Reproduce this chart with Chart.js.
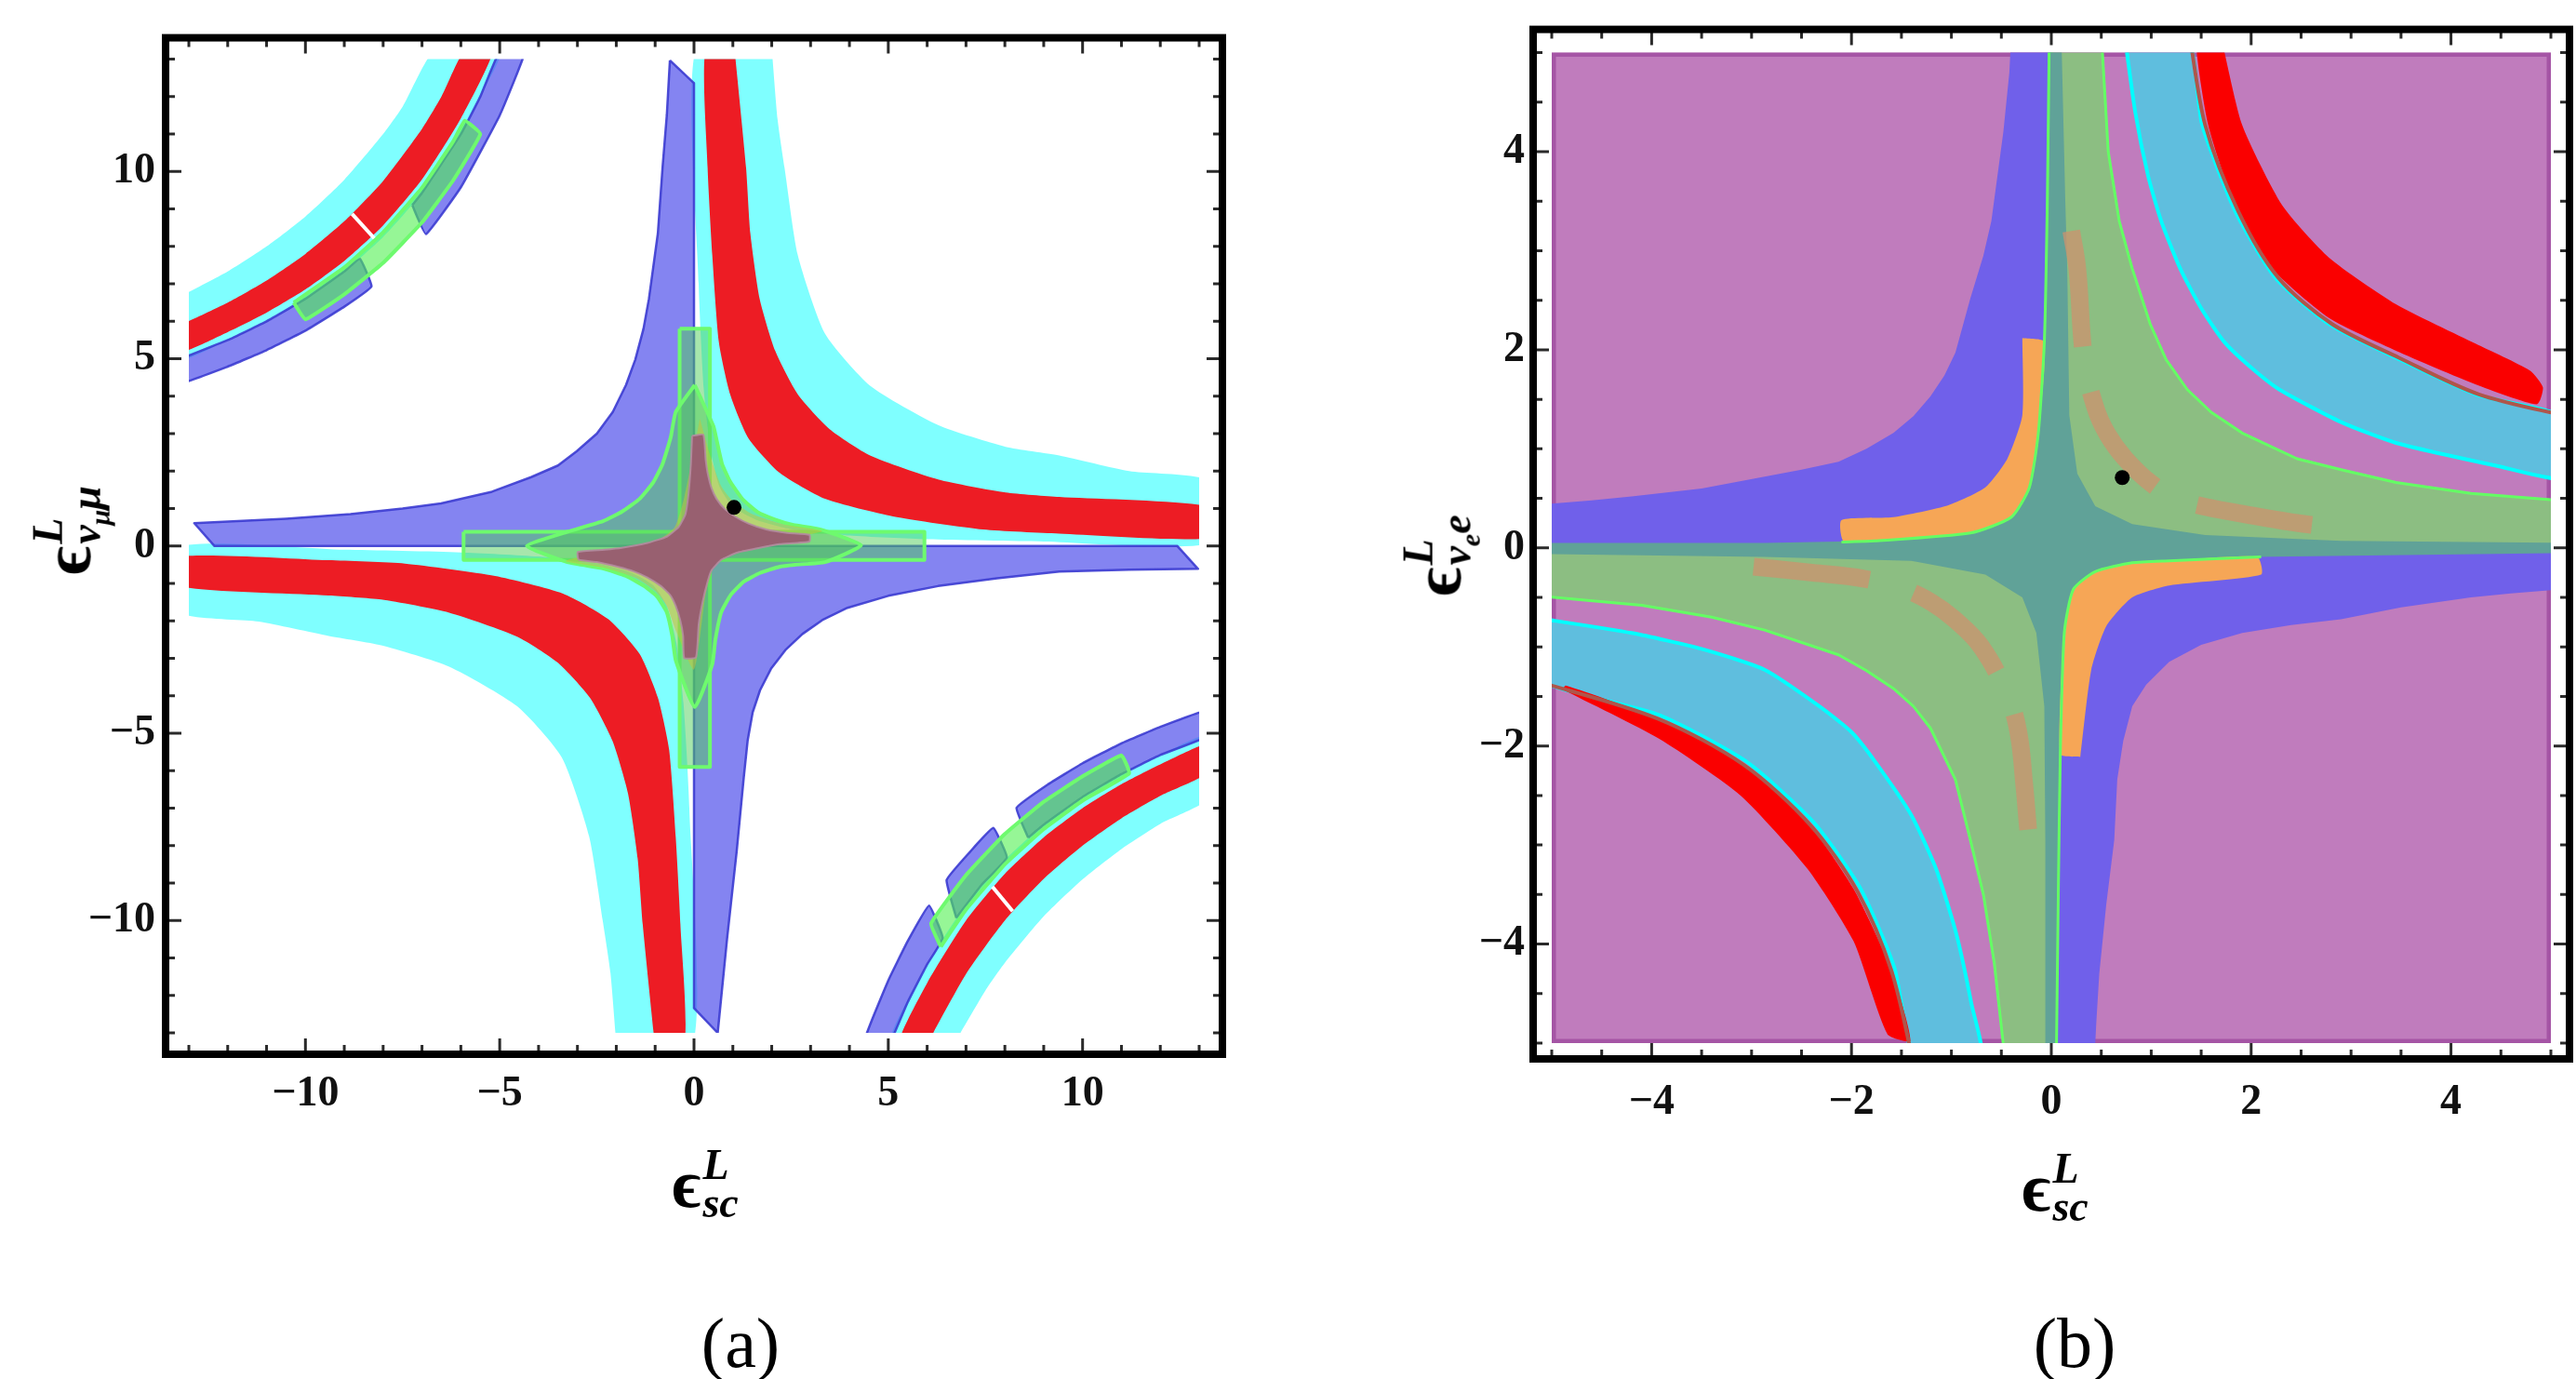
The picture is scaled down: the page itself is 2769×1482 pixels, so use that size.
<!DOCTYPE html>
<html><head><meta charset="utf-8">
<script src="https://cdn.jsdelivr.net/npm/chart.js@4.4.1/dist/chart.umd.min.js"></script>
<style>
html,body{margin:0;padding:0;background:#fff;}
#wrap{position:relative;width:2769px;height:1482px;overflow:hidden;background:#fff;}
canvas{position:absolute;top:0;}
#cA{left:0;} #cB{left:1440px;}
.lab{position:absolute;font-family:'Liberation Serif','DejaVu Serif',serif;font-weight:bold;color:#000;white-space:nowrap;transform:translate(-50%,-50%);line-height:1;}
.rot{transform:translate(-50%,-50%) rotate(-90deg);}
.eps{font-size:74px;vertical-align:middle;}
.ss{display:inline-block;vertical-align:middle;font-style:italic;font-size:46px;line-height:0.9;text-align:left;margin-left:2px;}
.ss>span{display:block;}
.s2{font-size:30px;position:relative;top:10px;}
.cap{position:absolute;font-family:'Liberation Serif','DejaVu Serif',serif;font-size:76px;color:#000;transform:translate(-50%,-50%);line-height:1;}
</style></head>
<body><div id="wrap">
<canvas id="cA" width="1340" height="1482"></canvas>
<canvas id="cB" width="1329" height="1482"></canvas>
<div class="lab" style="left:758px;top:1272px"><span class="eps">ϵ</span><span class="ss"><span>L</span><span>sc</span></span></div>
<div class="lab" style="left:2209px;top:1276px"><span class="eps">ϵ</span><span class="ss"><span>L</span><span>sc</span></span></div>
<div class="lab rot" style="left:72px;top:570px"><span class="eps">ϵ</span><span class="ss"><span>L</span><span>ν<span class="s2">μ</span>μ</span></span></div>
<div class="lab rot" style="left:1545px;top:597px"><span class="eps">ϵ</span><span class="ss"><span>L</span><span>ν<span class="s2">e</span>e</span></span></div>
<div class="cap" style="left:796px;top:1443px">(a)</div>
<div class="cap" style="left:2230px;top:1443px">(b)</div>
</div>
<script>
// ---------- tick labels ----------
const LEFT_TICKS = [-10, -5, 0, 5, 10];
const RIGHT_TICKS = [-4, -2, 0, 2, 4];

// ---------- panel (a) regions: boundary points [x, y] ----------
const L_CYAN_Q1 = [[2.0,13.3],[2.15,11.4],[2.33,10.1],[2.67,7.77],[3.37,5.67],[4.53,4.28],[6.28,3.23],[8.02,2.65],[9.4,2.42],[11.2,2.0],[13.3,1.72],[13.3,0.08],[9.0,0.12],[6.0,0.18],[4.0,0.28],[2.5,0.45],[1.6,0.7],[1.0,1.05],[0.65,1.6],[0.42,2.6],[0.25,4.2],[0.12,7.0],[0.05,13.3]];
const L_CYAN_Q3 = [[-2.0,-13.3],[-2.15,-11.4],[-2.35,-10.0],[-2.7,-7.75],[-3.4,-5.65],[-4.55,-4.28],[-6.3,-3.22],[-8.05,-2.65],[-9.4,-2.4],[-11.2,-2.02],[-13.3,-1.75],[-13.3,-0.03],[-9.0,-0.1],[-6.0,-0.17],[-4.0,-0.28],[-2.5,-0.46],[-1.6,-0.72],[-1.05,-1.05],[-0.7,-1.6],[-0.45,-2.6],[-0.27,-4.2],[-0.12,-7.0],[-0.03,-13.3]];
const L_CYAN_Q2 = [[-13.3,6.62],[-12.0,7.33],[-11.0,8.0],[-10.0,8.8],[-9.0,9.78],[-8.0,11.0],[-7.5,11.73],[-6.62,13.3],[-4.96,13.3],[-5.5,12.0],[-6.0,11.0],[-7.0,9.43],[-8.0,8.25],[-9.0,7.33],[-10.0,6.6],[-11.0,6.0],[-12.0,5.5],[-13.3,4.96]];
const L_CYAN_Q4 = [[6.69,-13.3],[7.5,-11.87],[8.0,-11.13],[9.0,-9.89],[10.0,-8.9],[11.0,-8.09],[12.0,-7.42],[13.3,-6.69],[13.3,-5.04],[12.0,-5.58],[11.0,-6.09],[10.0,-6.7],[9.0,-7.44],[8.0,-8.38],[7.0,-9.57],[6.0,-11.17],[5.04,-13.3]];
const L_RED_Q1 = [[1.04,13.3],[1.34,10.1],[1.45,8.35],[1.69,6.6],[2.09,5.21],[2.67,4.05],[3.49,3.12],[4.53,2.42],[6.28,1.78],[8.02,1.43],[9.4,1.31],[13.3,1.04],[13.3,0.22],[9.4,0.33],[7.44,0.44],[5.12,0.79],[3.37,1.26],[2.21,1.95],[1.40,2.88],[0.93,4.05],[0.64,5.44],[0.47,7.77],[0.35,10.1],[0.3,13.3]];
const L_RED_Q3 = [[-1.01,-13.3],[-1.32,-10.1],[-1.45,-8.35],[-1.7,-6.6],[-2.1,-5.2],[-2.68,-4.05],[-3.5,-3.12],[-4.55,-2.42],[-6.3,-1.78],[-8.05,-1.43],[-9.4,-1.32],[-13.3,-1.06],[-13.3,-0.29],[-9.4,-0.38],[-7.44,-0.47],[-5.12,-0.8],[-3.37,-1.27],[-2.21,-1.95],[-1.40,-2.88],[-0.93,-4.05],[-0.64,-5.44],[-0.47,-7.77],[-0.35,-10.1],[-0.25,-13.3]];
const L_RED_Q2 = [[-13.3,5.86],[-12.0,6.5],[-11.0,7.09],[-10.0,7.8],[-9.0,8.67],[-8.0,9.75],[-7.0,11.14],[-6.5,12.0],[-5.86,13.3],[-5.15,13.3],[-6.0,11.42],[-7.0,9.79],[-8.0,8.56],[-9.0,7.61],[-10.0,6.85],[-11.0,6.23],[-12.0,5.71],[-13.3,5.15]];
const L_RED_Q4 = [[6.0,-13.3],[7.0,-11.43],[8.0,-10.0],[9.0,-8.89],[10.0,-8.0],[11.0,-7.27],[12.0,-6.67],[13.3,-6.0],[13.3,-5.26],[12.0,-5.83],[11.0,-6.36],[10.0,-7.0],[9.0,-7.78],[8.0,-8.75],[7.0,-10.0],[6.0,-11.67],[5.26,-13.3]];
const L_BLUE_C = [[-0.62,12.97],[0.0,12.36],[0.0,6.0],[0.0,0.0],[6.0,0.0],[12.44,0.0],[12.97,-0.61],[11.2,-0.63],[9.4,-0.68],[7.8,-0.86],[6.28,-1.07],[5.0,-1.33],[3.95,-1.65],[3.3,-1.98],[2.79,-2.35],[2.35,-2.78],[1.98,-3.28],[1.7,-3.85],[1.51,-4.44],[1.38,-5.2],[1.28,-6.19],[1.1,-8.14],[0.85,-10.5],[0.61,-13.0],[0.0,-12.34],[0.0,-6.0],[0.0,0.0],[-6.0,0.0],[-12.34,0.0],[-12.86,0.61],[-10.5,0.73],[-8.84,0.85],[-7.5,1.0],[-6.51,1.14],[-5.2,1.45],[-4.19,1.84],[-3.5,2.15],[-3.02,2.53],[-2.5,3.0],[-2.09,3.58],[-1.75,4.3],[-1.51,4.98],[-1.3,5.8],[-1.16,6.6],[-0.93,8.35],[-0.81,10.1],[-0.7,11.5]];
const L_BLUE_Q2A = [[-13.3,4.96],[-12.0,5.5],[-11.0,6.0],[-10.0,6.6],[-9.0,7.33],[-8.6,7.67],[-8.3,6.93],[-9.0,6.39],[-10.0,5.75],[-11.0,5.23],[-12.0,4.79],[-13.3,4.32]];
const L_BLUE_Q2B = [[-7.25,9.1],[-7.0,9.43],[-6.0,11.0],[-5.5,12.0],[-4.96,13.3],[-4.32,13.3],[-5.0,11.5],[-6.0,9.58],[-6.9,8.33]];
const L_BLUE_Q4A = [[5.04,-13.3],[5.5,-12.18],[6.0,-11.17],[6.4,-10.47],[6.05,-9.6],[5.5,-10.55],[5.0,-11.6],[4.36,-13.3]];
const L_BLUE_Q4B = [[6.75,-9.93],[7.4,-9.05],[8.05,-8.32],[7.7,-7.53],[7.1,-8.17],[6.5,-8.92]];
const L_BLUE_Q4C = [[8.6,-7.79],[9.0,-7.44],[10.0,-6.7],[11.0,-6.09],[12.0,-5.58],[13.3,-5.04],[13.3,-4.36],[12.0,-4.83],[11.0,-5.27],[10.0,-5.8],[9.1,-6.37],[8.3,-6.99]];
const L_GREEN_Q2 = [[-10.3,6.5],[-9.0,7.44],[-8.0,8.38],[-7.0,9.57],[-6.2,10.8],[-5.9,11.36],[-5.5,11.0],[-6.2,9.76],[-7.0,8.64],[-8.0,7.56],[-9.0,6.72],[-10.0,6.05]];
const L_GREEN_Q4 = [[6.35,-10.7],[7.0,-9.71],[8.0,-8.5],[9.0,-7.56],[10.0,-6.8],[11.2,-6.07],[11.0,-5.59],[10.0,-6.15],[9.0,-6.83],[8.0,-7.69],[7.0,-8.79],[6.1,-10.08]];
const L_GREEN_V = [[-0.37,5.8],[0.41,5.8],[0.41,-5.9],[-0.37,-5.9]];
const L_GREEN_H = [[-5.93,0.38],[5.93,0.38],[5.93,-0.37],[-5.93,-0.37]];
const L_GREEN_STAR = [[0.02,4.3],[0.5,3.2],[0.58,2.84],[0.72,2.2],[0.93,1.72],[1.25,1.25],[1.63,0.91],[2.1,0.7],[2.56,0.56],[3.26,0.44],[4.3,0.02],[3.37,-0.43],[2.6,-0.5],[2.21,-0.55],[1.7,-0.72],[1.28,-0.95],[0.95,-1.3],[0.70,-1.77],[0.55,-2.5],[0.47,-3.16],[0.02,-4.3],[-0.47,-3.05],[-0.56,-2.4],[-0.70,-1.77],[-0.95,-1.35],[-1.28,-1.07],[-1.75,-0.8],[-2.33,-0.6],[-3.26,-0.43],[-4.3,0.0],[-3.26,0.38],[-2.33,0.67],[-1.85,0.92],[-1.4,1.26],[-1.05,1.7],[-0.81,2.19],[-0.6,2.9],[-0.47,3.58]];
const L_OLIVE = [[0.15,3.4],[0.45,2.3],[0.7,1.6],[1.0,1.2],[1.5,0.85],[2.3,0.58],[3.3,0.4],[2.0,0.14],[1.0,-0.05],[0.55,-0.45],[0.3,-1.3],[0.0,-3.3],[-0.45,-2.3],[-0.7,-1.6],[-1.0,-1.2],[-1.5,-0.85],[-2.3,-0.58],[-3.3,-0.4],[-2.0,-0.1],[-1.0,0.12],[-0.5,0.5],[-0.25,1.3]];
const L_BROWN = [[-0.05,2.94],[0.24,2.97],[0.3,2.3],[0.35,1.95],[0.45,1.55],[0.58,1.26],[0.8,0.98],[1.05,0.79],[1.4,0.6],[1.86,0.44],[2.4,0.35],[2.97,0.3],[2.97,0.12],[2.2,0.05],[1.63,-0.06],[1.1,-0.18],[0.7,-0.37],[0.45,-0.65],[0.35,-0.95],[0.22,-1.5],[0.12,-2.1],[0.05,-2.97],[-0.25,-2.99],[-0.28,-2.4],[-0.35,-2.0],[-0.47,-1.6],[-0.62,-1.3],[-0.85,-1.07],[-1.2,-0.84],[-1.55,-0.68],[-1.95,-0.56],[-2.5,-0.43],[-2.97,-0.36],[-2.99,-0.16],[-2.3,-0.1],[-1.86,-0.05],[-1.2,0.08],[-0.7,0.25],[-0.4,0.5],[-0.22,0.85],[-0.14,1.4],[-0.08,2.2]];
const L_GAP_Q2 = [[-8.8,8.87],[-8.23,8.22]];
const L_GAP_Q4 = [[7.68,-9.1],[8.2,-9.75]];
const L_DOT = [1.03, 1.03];

// ---------- panel (b) regions ----------
const R_PURPLE = [[-5,5],[5,5],[5,-5],[-5,-5]];
const R_BLUE_Q2 = [[-0.40,5.2],[0.0,5.2],[0.0,2.5],[0.0,0.04],[-2.5,0.04],[-5.2,0.04],[-5.2,0.43],[-4.6,0.48],[-4.2,0.52],[-3.5,0.6],[-2.87,0.72],[-2.5,0.79],[-2.13,0.87],[-1.85,1.0],[-1.58,1.16],[-1.38,1.33],[-1.21,1.53],[-1.07,1.74],[-0.96,1.97],[-0.81,2.52],[-0.68,2.95],[-0.6,3.3],[-0.48,4.2],[-0.42,4.8]];
const R_BLUE_Q4 = [[0.43,-5.2],[0.04,-5.2],[0.04,-2.5],[0.04,-0.04],[2.5,-0.04],[5.2,-0.04],[5.2,-0.41],[4.6,-0.46],[4.2,-0.5],[3.5,-0.6],[2.9,-0.72],[2.4,-0.78],[1.91,-0.86],[1.5,-0.98],[1.18,-1.15],[0.95,-1.38],[0.81,-1.6],[0.72,-1.95],[0.66,-2.34],[0.63,-2.95],[0.55,-3.6],[0.48,-4.3],[0.45,-4.8]];
const R_GREEN = [[0.0,5.2],[0.5,5.2],[0.57,4.0],[0.68,3.3],[0.81,2.82],[0.99,2.26],[1.15,1.9],[1.36,1.6],[1.6,1.37],[1.91,1.16],[2.46,0.9],[2.9,0.79],[3.45,0.66],[4.2,0.55],[5.2,0.47],[5.2,-0.02],[2.5,-0.02],[0.03,-0.02],[0.03,-2.5],[0.03,-5.2],[-0.46,-5.2],[-0.57,-4.2],[-0.68,-3.5],[-0.81,-2.95],[-0.96,-2.34],[-1.21,-1.82],[-1.38,-1.6],[-1.58,-1.42],[-1.85,-1.24],[-2.13,-1.08],[-2.87,-0.83],[-3.4,-0.7],[-4.1,-0.58],[-5.2,-0.48],[-5.2,0.01],[-2.5,0.01],[0.0,0.01],[0.0,2.5]];
const R_TEAL = [[-0.02,5.2],[0.1,5.2],[0.14,3.5],[0.16,2.8],[0.18,1.34],[0.26,0.75],[0.44,0.42],[0.81,0.24],[1.54,0.13],[2.9,0.07],[5.2,0.05],[5.2,-0.05],[2.06,-0.09],[1.18,-0.13],[0.81,-0.15],[0.44,-0.24],[0.22,-0.42],[0.13,-0.86],[0.09,-2.08],[0.07,-3.5],[0.05,-5.2],[-0.06,-5.2],[-0.06,-2.95],[-0.07,-1.6],[-0.15,-0.86],[-0.29,-0.5],[-0.66,-0.27],[-1.4,-0.13],[-2.87,-0.09],[-5.2,-0.06],[-5.2,0.05],[-2.87,0.05],[-1.77,0.07],[-0.81,0.15],[-0.40,0.31],[-0.22,0.61],[-0.13,1.16],[-0.07,2.08],[-0.04,3.5]];
const R_GLINE_Q2 = [[-2.1,0.06],[-1.77,0.07],[-0.81,0.15],[-0.40,0.31],[-0.22,0.61],[-0.13,1.16],[-0.07,2.08],[-0.04,3.5],[-0.02,5.2]];
const R_GLINE_Q4 = [[2.1,-0.09],[1.18,-0.13],[0.81,-0.15],[0.44,-0.24],[0.22,-0.42],[0.13,-0.86],[0.09,-2.08],[0.07,-3.5],[0.05,-5.2]];
const R_ORANGE_Q2 = [[-0.29,2.12],[-0.29,1.34],[-0.44,0.9],[-0.66,0.61],[-1.03,0.43],[-1.58,0.31],[-2.1,0.28],[-2.08,0.07],[-1.77,0.07],[-0.81,0.15],[-0.40,0.31],[-0.22,0.61],[-0.13,1.16],[-0.07,2.08]];
const R_ORANGE_Q4 = [[0.29,-2.11],[0.40,-1.23],[0.55,-0.79],[0.81,-0.5],[1.18,-0.38],[2.1,-0.27],[2.06,-0.09],[1.18,-0.13],[0.81,-0.15],[0.44,-0.24],[0.22,-0.42],[0.13,-0.86],[0.09,-2.08]];
const R_LBLUE_Q1 = [[0.73,5.2],[0.84,4.4],[0.97,3.75],[1.1,3.3],[1.29,2.82],[1.5,2.42],[1.73,2.08],[2.0,1.82],[2.28,1.6],[2.9,1.27],[3.45,1.06],[4.45,0.83],[5.2,0.7],[5.2,1.29],[4.25,1.55],[3.45,1.92],[2.78,2.26],[2.24,2.73],[1.84,3.40],[1.51,4.27],[1.35,5.2]];
const R_LBLUE_Q3 = [[-5.2,-0.7],[-4.2,-0.86],[-3.5,-1.02],[-2.87,-1.23],[-2.32,-1.6],[-2.0,-1.86],[-1.77,-2.15],[-1.4,-2.7],[-1.15,-3.25],[-0.95,-3.9],[-0.8,-4.6],[-0.7,-5.2],[-1.35,-5.2],[-1.57,-4.24],[-1.91,-3.44],[-2.38,-2.77],[-3.05,-2.16],[-3.92,-1.69],[-5.2,-1.3]];
const R_RED_Q1 = [[1.69,5.2],[1.91,4.27],[2.31,3.46],[2.78,2.93],[3.45,2.46],[4.25,2.06],[4.79,1.79],[4.92,1.62],[4.86,1.45],[4.25,1.65],[3.45,1.99],[2.78,2.32],[2.24,2.79],[1.84,3.46],[1.57,4.27],[1.45,5.2]];
const R_RED_Q3 = [[-4.89,-1.43],[-3.92,-1.93],[-3.11,-2.50],[-2.44,-3.24],[-1.98,-3.97],[-1.64,-4.91],[-1.41,-4.98],[-1.61,-4.24],[-1.98,-3.44],[-2.44,-2.77],[-3.11,-2.16],[-3.92,-1.73],[-4.86,-1.39]];
const R_BROWN_Q1 = [[1.38,5.2],[1.54,4.27],[1.87,3.40],[2.27,2.73],[2.81,2.26],[3.48,1.92],[4.28,1.55],[5.2,1.32]];
const R_BROWN_Q3 = [[-5.2,-1.33],[-3.95,-1.72],[-3.08,-2.19],[-2.41,-2.8],[-1.94,-3.47],[-1.6,-4.27],[-1.38,-5.2]];
const R_DASH_Q1 = [[0.20,3.2],[0.26,2.82],[0.33,1.9],[0.44,1.42],[0.56,1.15],[0.74,0.9],[1.0,0.65],[1.25,0.5],[1.51,0.42],[1.88,0.35],[2.4,0.26],[2.9,0.2],[3.05,0.19]];
const R_DASH_Q3 = [[-2.98,-0.19],[-2.4,-0.25],[-1.88,-0.31],[-1.47,-0.42],[-1.2,-0.55],[-0.97,-0.72],[-0.7,-1.0],[-0.44,-1.49],[-0.33,-1.86],[-0.27,-2.4],[-0.22,-2.95],[-0.19,-3.1]];
const R_DOT = [0.71, 0.71];

// ---------- helpers ----------
function poly(pts, fill, edge, bw, tension) {
  const d = pts.map(p => ({x: p[0], y: p[1]}));
  d.push({x: pts[0][0], y: pts[0][1]});
  return {type: 'line', data: d, backgroundColor: fill, borderColor: edge || 'rgba(0,0,0,0)',
    borderWidth: bw || 0, fill: 'shape', pointRadius: 0, pointHoverRadius: 0, clip: 0,
    tension: tension === undefined ? 0.2 : tension, borderJoinStyle: 'round'};
}
function curve(pts, color, w, dash, tension) {
  return {type: 'line', data: pts.map(p => ({x: p[0], y: p[1]})), borderColor: color, borderWidth: w,
    borderDash: dash || [], fill: false, pointRadius: 0, pointHoverRadius: 0, clip: 0,
    tension: tension === undefined ? 0.3 : tension, borderCapStyle: 'butt'};
}
function dot(p, r) {
  return {type: 'line', data: [{x: p[0], y: p[1]}], showLine: false, pointRadius: r,
    pointBackgroundColor: '#000', pointBorderWidth: 0, pointHoverRadius: r};
}
function layered(list) {
  const n = list.length;
  list.forEach((ds, i) => { ds.order = n - i; });
  return list;
}

// frame + inward ticks, drawn around the data area with a small margin (like the original plot padding)
const framePlugin = {
  id: 'frame',
  afterDatasetsDraw(chart, args, o) {
    const {ctx, chartArea: a, scales: {x, y}} = chart;
    const L0 = a.left - o.pad[0], R0 = a.right + o.pad[1], T0 = a.top - o.pad[2], B0 = a.bottom + o.pad[3];
    const xlo = x.getValueForPixel(L0), xhi = x.getValueForPixel(R0);
    const ylo = y.getValueForPixel(B0), yhi = y.getValueForPixel(T0);
    ctx.save();
    ctx.strokeStyle = '#2a2a2a';
    ctx.lineWidth = 3;
    const isMajor = v => Math.abs(v / o.major - Math.round(v / o.major)) < 1e-6;
    for (let v = Math.ceil(xlo / o.minor) * o.minor; v <= xhi + 1e-9; v += o.minor) {
      const px = x.getPixelForValue(v), L = isMajor(v) ? 17 : 10;
      ctx.beginPath();
      ctx.moveTo(px, B0); ctx.lineTo(px, B0 - L);
      ctx.moveTo(px, T0); ctx.lineTo(px, T0 + L);
      ctx.stroke();
    }
    for (let v = Math.ceil(ylo / o.minor) * o.minor; v <= yhi + 1e-9; v += o.minor) {
      const py = y.getPixelForValue(v), L = isMajor(v) ? 17 : 10;
      ctx.beginPath();
      ctx.moveTo(L0, py); ctx.lineTo(L0 + L, py);
      ctx.moveTo(R0, py); ctx.lineTo(R0 - L, py);
      ctx.stroke();
    }
    ctx.strokeStyle = '#000';
    ctx.lineWidth = 8;
    ctx.strokeRect(L0, T0, R0 - L0, B0 - T0);
    ctx.restore();
  }
};

const tickFont = {family: "'Liberation Serif','DejaVu Serif',serif", size: 46, weight: 'bold'};
const fmt = v => (v < 0 ? '\u2212' + Math.abs(v) : String(v));

function makeOptions(cfg) {
  return {
    responsive: false, animation: false, devicePixelRatio: 1, events: [],
    layout: {padding: cfg.padding},
    plugins: {legend: {display: false}, tooltip: {enabled: false}, frame: {minor: cfg.minor, major: cfg.major, pad: cfg.pad}},
    scales: {
      x: {type: 'linear', min: cfg.xmin, max: cfg.xmax,
        grid: {display: false, drawTicks: false}, border: {display: false},
        afterBuildTicks: s => { s.ticks = cfg.ticks.map(v => ({value: v})); },
        afterFit: s => { s.height = cfg.xh; },
        ticks: {font: tickFont, color: '#111', padding: cfg.xpad, maxRotation: 0, autoSkip: false, callback: fmt}},
      y: {type: 'linear', min: cfg.ymin, max: cfg.ymax,
        grid: {display: false, drawTicks: false}, border: {display: false},
        afterBuildTicks: s => { s.ticks = cfg.ticks.map(v => ({value: v})); },
        afterFit: s => { s.width = cfg.yw; },
        ticks: {font: tickFont, color: '#111', padding: cfg.ypad, autoSkip: false, callback: fmt}}
    }
  };
}

// ---------- colours ----------
const CYAN = 'rgba(0,255,255,0.5)';
const RED = 'rgb(237,28,36)';
const BLUE = 'rgba(80,80,235,0.7)', BLUE_EDGE = 'rgba(60,60,210,0.9)';
const GREEN = 'rgba(80,205,90,0.5)', GREEN_EDGE = 'rgb(110,250,110)';
const GREEN_BAND = 'rgba(80,240,80,0.6)';

const dsA = layered([
  poly(L_CYAN_Q1, CYAN), poly(L_CYAN_Q3, CYAN), poly(L_CYAN_Q2, CYAN), poly(L_CYAN_Q4, CYAN),
  poly(L_RED_Q1, RED), poly(L_RED_Q3, RED), poly(L_RED_Q2, RED), poly(L_RED_Q4, RED),
  poly(L_BLUE_C, BLUE, BLUE_EDGE, 2.5, 0),
  poly(L_BLUE_Q2A, BLUE, BLUE_EDGE, 2.5, 0.1), poly(L_BLUE_Q2B, BLUE, BLUE_EDGE, 2.5, 0.1),
  poly(L_BLUE_Q4A, BLUE, BLUE_EDGE, 2.5, 0.1), poly(L_BLUE_Q4B, BLUE, BLUE_EDGE, 2.5, 0.1), poly(L_BLUE_Q4C, BLUE, BLUE_EDGE, 2.5, 0.1),
  poly(L_GREEN_Q2, GREEN_BAND, GREEN_EDGE, 4, 0.1), poly(L_GREEN_Q4, GREEN_BAND, GREEN_EDGE, 4, 0.1),
  poly(L_GREEN_V, GREEN, GREEN_EDGE, 4, 0), poly(L_GREEN_H, GREEN, GREEN_EDGE, 4, 0),
  poly(L_GREEN_STAR, GREEN, GREEN_EDGE, 4, 0.15),
  poly(L_OLIVE, 'rgba(200,195,60,0.5)', null, 0, 0.2),
  poly(L_BROWN, 'rgb(152,96,112)', 'rgba(180,140,160,0.9)', 2, 0.15),
  curve(L_GAP_Q2, '#fff', 4, null, 0), curve(L_GAP_Q4, '#fff', 4, null, 0),
  dot(L_DOT, 8)
]);

const LBLUE = 'rgb(95,190,222)', CY = 'rgb(0,255,255)', GLINE = 'rgb(100,255,100)';
const dsB = layered([
  poly(R_PURPLE, 'rgb(192,124,189)', 'rgb(165,85,165)', 9, 0),
  poly(R_BLUE_Q2, 'rgb(112,96,234)', null, 0, 0), poly(R_BLUE_Q4, 'rgb(112,96,234)', null, 0, 0),
  poly(R_GREEN, 'rgb(140,190,130)', GLINE, 3, 0),
  poly(R_TEAL, 'rgb(96,162,152)', null, 0, 0),
  poly(R_ORANGE_Q2, 'rgb(246,166,86)', null, 0, 0.2), poly(R_ORANGE_Q4, 'rgb(246,166,86)', null, 0, 0.2),
  curve(R_GLINE_Q2, GLINE, 3, null, 0.2), curve(R_GLINE_Q4, GLINE, 3, null, 0.2),
  poly(R_LBLUE_Q1, LBLUE, CY, 4, 0.2), poly(R_LBLUE_Q3, LBLUE, CY, 4, 0.2),
  poly(R_RED_Q1, 'rgb(250,0,0)', null, 0, 0.2), poly(R_RED_Q3, 'rgb(250,0,0)', null, 0, 0.2),
  curve(R_BROWN_Q1, 'rgb(175,85,75)', 4), curve(R_BROWN_Q3, 'rgb(175,85,75)', 4),
  curve(R_DASH_Q1, 'rgba(205,145,110,0.75)', 19, [125, 50], 0.4),
  curve(R_DASH_Q3, 'rgba(205,145,110,0.75)', 19, [125, 50], 0.4),
  dot(R_DOT, 8)
]);

// data area = plotted range; frame sits outside it by the original padding
new Chart(document.getElementById('cA'), {
  type: 'line', data: {datasets: dsA},
  options: makeOptions({padding: {left: 0, top: 28, right: 51, bottom: 0}, xmin: -13, xmax: 13, ymin: -13, ymax: 13,
    pad: [25, 25, 23, 23],
    ticks: LEFT_TICKS, minor: 1, major: 5, xh: 372, yw: 203, xpad: 39, ypad: 36}),
  plugins: [framePlugin]
});
new Chart(document.getElementById('cB'), {
  type: 'line', data: {datasets: dsB},
  options: makeOptions({padding: {left: 0, top: 46, right: 27, bottom: 0}, xmin: -5, xmax: 5, ymin: -5, ymax: 5,
    pad: [20, 20, 25, 17],
    ticks: RIGHT_TICKS, minor: 0.5, major: 2, xh: 361, yw: 228, xpad: 37, ypad: 29}),
  plugins: [framePlugin]
});
</script>
</body></html>
